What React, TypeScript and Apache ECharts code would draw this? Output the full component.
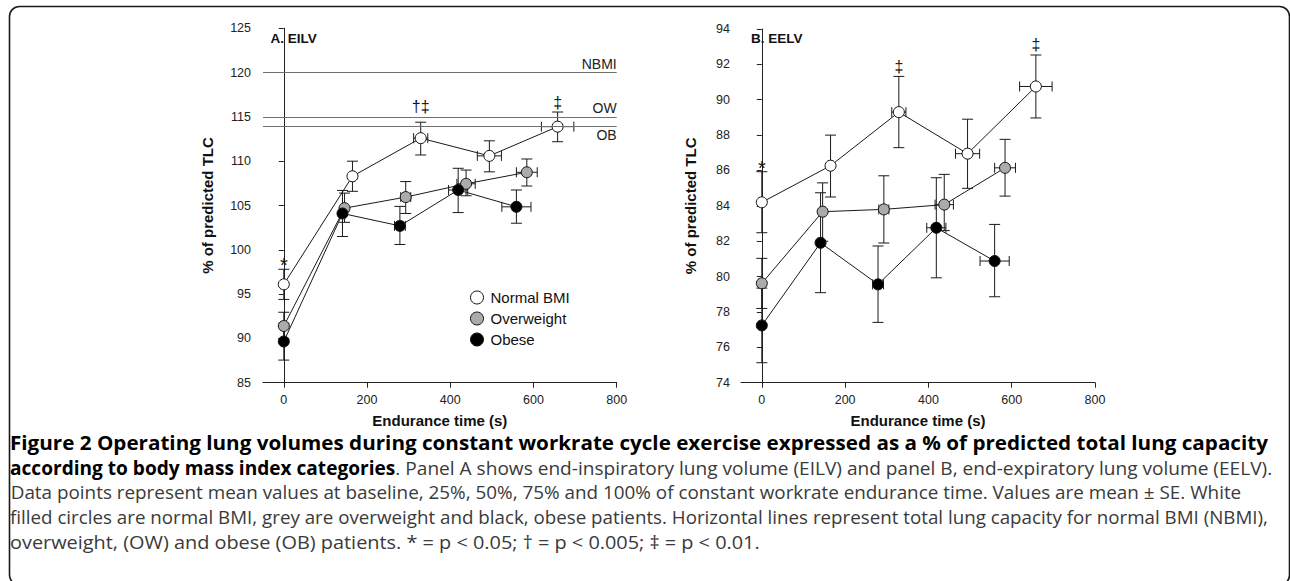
import React, { useEffect, useRef } from "react";
import * as echarts from "echarts";

// ---------------- DATA ----------------
const timeNormal = [0, 165, 329, 494, 658];
const timeOver = [0, 146, 293, 438, 584];
const timeObese = [0, 141, 279, 419, 559];
const timeErrNormal = [0, 5, 17, 29, 39];
const timeErrOver = [0, 6, 12, 22, 25];
const timeErrObese = [0, 5, 13, 23, 35];

// Panel A: EILV (% predicted TLC)
const eilvNormal = [96.1, 108.3, 112.6, 110.6, 113.9];
const eilvNormalLo = [94.4, 106.6, 110.7, 108.8, 112.2];
const eilvNormalHi = [97.8, 110.0, 114.4, 112.3, 115.55];
const eilvOver = [91.4, 104.7, 105.95, 107.45, 108.75];
const eilvOverLo = [90.0, 103.1, 104.1, 106.1, 107.2];
const eilvOverHi = [92.95, 106.4, 107.7, 109.0, 110.25];
const eilvObese = [89.65, 104.1, 102.7, 106.75, 104.85];
const eilvObeseLo = [87.55, 101.5, 100.6, 104.2, 103.0];
const eilvObeseHi = [91.7, 106.7, 104.9, 109.2, 106.75];
const sigEilvNormal = ["*", "", "†‡", "", "‡"];

// Panel B: EELV (% predicted TLC)
const eelvNormal = [84.2, 86.27, 89.3, 86.95, 90.75];
const eelvNormalLo = [82.48, 84.5, 87.29, 84.99, 88.97];
const eelvNormalHi = [85.93, 88.0, 91.32, 88.9, 92.53];
const eelvOver = [79.62, 83.67, 83.8, 84.07, 86.15];
const eelvOverLo = [78.2, 82.0, 81.9, 82.6, 84.55];
const eelvOverHi = [81.03, 85.3, 85.7, 85.78, 87.76];
const eelvObese = [77.24, 81.91, 79.56, 82.76, 80.88];
const eelvObeseLo = [75.13, 79.09, 77.41, 79.93, 78.86];
const eelvObeseHi = [79.35, 84.74, 81.73, 85.59, 82.95];
const sigEelvNormal = ["*", "", "‡", "", "‡"];

// TLC reference lines (panel A)
const refNames = ["NBMI", "OW", "OB"];
const refValues = [120, 115, 114];

const groupNames = ["Normal BMI", "Overweight", "Obese"];
const groupFills = ["#ffffff", "#ababab", "#000000"];

const xTicks = [0, 200, 400, 600, 800];

const panelTitles = ["A. EILV", "B. EELV"];
const yAxisTitle = "% of predicted TLC";
const xAxisTitle = "Endurance time (s)";

const captionL1 =
  "Figure 2 Operating lung volumes during constant workrate cycle exercise expressed as a % of predicted total lung capacity";
const captionL2Bold = "according to body mass index categories";
const captionL2Reg =
  ". Panel A shows end-inspiratory lung volume (EILV) and panel B, end-expiratory lung volume (EELV).";
const captionL3 =
  "Data points represent mean values at baseline, 25%, 50%, 75% and 100% of constant workrate endurance time. Values are mean ± SE. White";
const captionL4 =
  "filled circles are normal BMI, grey are overweight and black, obese patients. Horizontal lines represent total lung capacity for normal BMI (NBMI),";
const captionL5 =
  "overweight, (OW) and obese (OB) patients. * = p < 0.05; † = p < 0.005; ‡ = p < 0.01.";

// ---------------- HELPERS ----------------
const FONT = "Liberation Sans";
const CAP_FONT = "Open Sans";

function errData(t: number[], te: number[], y: number[], lo: number[], hi: number[]) {
  return t.map((x, i) => [x, y[i], te[i], lo[i], hi[i]]);
}

function renderErr(params: any, api: any) {
  const x = api.value(0);
  const y = api.value(1);
  const xe = api.value(2);
  const lo = api.value(3);
  const hi = api.value(4);
  const pLo = api.coord([x, lo]);
  const pHi = api.coord([x, hi]);
  const cap = 5.5;
  const st = { stroke: "#1a1a1a", lineWidth: 1 };
  const children: any[] = [
    { type: "line", shape: { x1: pLo[0], y1: pLo[1], x2: pHi[0], y2: pHi[1] }, style: st },
    { type: "line", shape: { x1: pLo[0] - cap, y1: pLo[1], x2: pLo[0] + cap, y2: pLo[1] }, style: st },
    { type: "line", shape: { x1: pHi[0] - cap, y1: pHi[1], x2: pHi[0] + cap, y2: pHi[1] }, style: st },
  ];
  if (xe > 0) {
    const pL = api.coord([x - xe, y]);
    const pR = api.coord([x + xe, y]);
    children.push(
      { type: "line", shape: { x1: pL[0], y1: pL[1], x2: pR[0], y2: pR[1] }, style: st },
      { type: "line", shape: { x1: pL[0], y1: pL[1] - 5, x2: pL[0], y2: pL[1] + 5 }, style: st },
      { type: "line", shape: { x1: pR[0], y1: pR[1] - 5, x2: pR[0], y2: pR[1] + 5 }, style: st }
    );
  }
  return { type: "group", children };
}

function makeSigRender(labels: string[]) {
  return (params: any, api: any) => {
    const p = api.coord([api.value(0), api.value(1)]);
    const txt = labels[params.dataIndex] || "";
    const isStar = txt === "*";
    const off = isStar ? -6 : txt.length > 1 ? 8 : 2;
    return {
      type: "text",
      x: p[0],
      y: p[1] - off,
      style: {
        text: txt,
        fill: "#111",
        fontFamily: FONT,
        fontSize: isStar ? 20 : 16,
        align: "center",
        verticalAlign: "bottom",
      },
    };
  };
}

export default function App() {
  const ref = useRef<HTMLDivElement>(null);

  useEffect(() => {
    if (!ref.current) return;
    const chart = echarts.init(ref.current, null, { renderer: "svg" });

    const panels = [
      {
        t: [timeNormal, timeOver, timeObese],
        te: [timeErrNormal, timeErrOver, timeErrObese],
        y: [eilvNormal, eilvOver, eilvObese],
        lo: [eilvNormalLo, eilvOverLo, eilvObeseLo],
        hi: [eilvNormalHi, eilvOverHi, eilvObeseHi],
        sig: sigEilvNormal,
      },
      {
        t: [timeNormal, timeOver, timeObese],
        te: [timeErrNormal, timeErrOver, timeErrObese],
        y: [eelvNormal, eelvOver, eelvObese],
        lo: [eelvNormalLo, eelvOverLo, eelvObeseLo],
        hi: [eelvNormalHi, eelvOverHi, eelvObeseHi],
        sig: sigEelvNormal,
      },
    ];

    const series: any[] = [];
    panels.forEach((p, pi) => {
      for (let g = 0; g < 3; g++) {
        series.push({
          type: "custom",
          name: `err-${pi}-${g}`,
          xAxisIndex: pi,
          yAxisIndex: pi,
          renderItem: renderErr,
          encode: { x: 0, y: 1 },
          data: errData(p.t[g], p.te[g], p.y[g], p.lo[g], p.hi[g]),
          z: 2,
          silent: true,
        });
      }
      for (let g = 0; g < 3; g++) {
        const s: any = {
          type: "line",
          name: groupNames[g],
          xAxisIndex: pi,
          yAxisIndex: pi,
          data: p.t[g].map((x, i) => [x, p.y[g][i]]),
          symbol: "circle",
          symbolSize: 11,
          showSymbol: true,
          lineStyle: { color: "#1a1a1a", width: 1 },
          itemStyle: { color: groupFills[g], borderColor: "#111", borderWidth: 1 },
          z: 3 + g,
          silent: true,
        };
        if (pi === 0 && g === 0) {
          s.markLine = {
            silent: true,
            symbol: "none",
            lineStyle: { color: "#707070", width: 1.1, type: "solid" },
            data: refValues.map((v, i) => ({
              yAxis: v,
              name: refNames[i],
              label: {
                show: true,
                formatter: refNames[i],
                position: i === 2 ? "insideEndBottom" : "insideEndTop",
                distance: [0, 2],
                fontSize: 14,
                color: "#222",
                fontFamily: FONT,
              },
            })),
          };
        }
        series.push(s);
      }
      const sigIdx = p.sig.map((s, i) => i).filter((i) => p.sig[i] !== "");
      series.push({
        type: "custom",
        name: `sig-${pi}`,
        xAxisIndex: pi,
        yAxisIndex: pi,
        renderItem: makeSigRender(sigIdx.map((i) => p.sig[i])),
        encode: { x: 0, y: 1 },
        data: sigIdx.map((i) => [p.t[0][i], p.hi[0][i]]),
        z: 10,
        silent: true,
      });
    });

    const grids = [
      { left: 263, top: 28.3, width: 353.7, height: 354.4 },
      { left: 741, top: 29, width: 354, height: 353.7 },
    ];
    const yRanges = [
      { min: 85, max: 125, interval: 5, gap: 48, margin: 12 },
      { min: 74, max: 94, interval: 2, gap: 43, margin: 11 },
    ];

    const axisLineStyle = { color: "#222", width: 1 };

    const ctx = document.createElement("canvas").getContext("2d") as CanvasRenderingContext2D;
    const measure = (t: string, fs: number, bold: boolean) => {
      ctx.font = `${bold ? "bold " : ""}${fs}px "${CAP_FONT}"`;
      return ctx.measureText(t).width;
    };
    const fs = (20 * 1231) / measure(captionL3, 20, false);
    const lines = [
      { parts: [[captionL1, true]], x: 10, right: 1267.5, base: 449 },
      { parts: [[captionL2Bold, true], [captionL2Reg, false]], x: 10, right: 1272.7, base: 473.5 },
      { parts: [[captionL3, false]], x: 10.7, right: 1241.7, base: 498 },
      { parts: [[captionL4, false]], x: 10, right: 1269.3, base: 522.5 },
      { parts: [[captionL5, false]], x: 10, right: 760, base: 547 },
    ];
    const captionEls = lines.map((ln) => {
      const total = ln.parts.reduce((a, pp) => a + measure(pp[0] as string, fs, pp[1] as boolean), 0);
      const sx = (ln.right - ln.x) / total;
      const text = ln.parts.map((pp) => `{${pp[1] ? "b" : "r"}|${pp[0]}}`).join("");
      return {
        type: "text",
        x: ln.x,
        y: ln.base - fs * 0.3,
        scaleX: sx,
        silent: true,
        style: {
          text,
          verticalAlign: "middle",
          align: "left",
          rich: {
            b: { fontFamily: CAP_FONT, fontSize: fs, fontWeight: "bold", fill: "#000" },
            r: { fontFamily: CAP_FONT, fontSize: fs, fontWeight: "normal", fill: "#3a3a3a" },
          },
        },
      };
    });

    const option: any = {
      animation: false,
      textStyle: { fontFamily: FONT },
      title: panelTitles.map((t, i) => ({
        text: t,
        left: i === 0 ? 270.5 : 751,
        top: 31,
        padding: 0,
        textStyle: { fontSize: 13.5, fontWeight: "bold", color: "#111", fontFamily: FONT },
      })),
      legend: {
        orient: "vertical",
        left: 465,
        top: 285,
        itemWidth: 13,
        itemHeight: 13,
        itemGap: 6,
        selectedMode: false,
        textStyle: { fontSize: 15, color: "#111", fontFamily: FONT, lineHeight: 15, padding: [0, 0, 0, 2] },
        data: groupNames.map((n, g) => ({
          name: n,
          icon: "circle",
          itemStyle: { color: groupFills[g], borderColor: "#111", borderWidth: 1 },
        })),
      },
      grid: grids,
      xAxis: grids.map((_, i) => ({
        type: "value",
        gridIndex: i,
        min: -50,
        max: 800,
        name: xAxisTitle,
        nameLocation: "middle",
        nameGap: 30,
        nameTextStyle: { fontSize: 15, fontWeight: "bold", color: "#111", fontFamily: FONT },
        axisLine: { show: true, lineStyle: axisLineStyle },
        axisTick: { show: true, length: 5, inside: false, customValues: xTicks, lineStyle: axisLineStyle },
        axisLabel: { customValues: xTicks, fontSize: 12.5, color: "#222", margin: 11, fontFamily: FONT },
        splitLine: { show: false },
      })),
      yAxis: grids.map((_, i) => ({
        type: "value",
        gridIndex: i,
        min: yRanges[i].min,
        max: yRanges[i].max,
        interval: yRanges[i].interval,
        name: yAxisTitle,
        nameLocation: "middle",
        nameRotate: 90,
        nameGap: yRanges[i].gap,
        nameTextStyle: { fontSize: 15, fontWeight: "bold", color: "#111", fontFamily: FONT },
        axisLine: { show: true, lineStyle: axisLineStyle },
        axisTick: { show: true, length: 5, inside: false, lineStyle: axisLineStyle },
        axisLabel: { fontSize: 12.5, color: "#222", margin: yRanges[i].margin, fontFamily: FONT },
        splitLine: { show: false },
      })),
      series,
      graphic: [
        {
          type: "rect",
          silent: true,
          shape: { x: 9.5, y: 6.5, width: 1280, height: 578.5, r: 10 },
          style: { fill: "none", stroke: "#1a1a1a", lineWidth: 1.6 },
        },
        ...captionEls,
      ],
    };

    chart.setOption(option);
    return () => chart.dispose();
  }, []);

  return (
    <div
      ref={ref}
      style={{ position: "absolute", left: 0, top: 0, width: 1290, height: 581, background: "#fff" }}
    />
  );
}
